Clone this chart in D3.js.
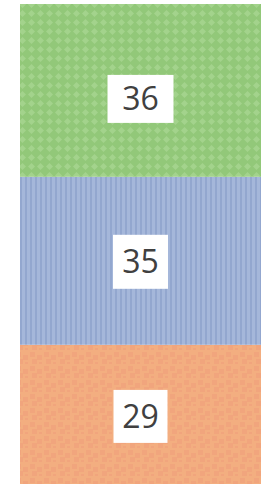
<!DOCTYPE html>
<html>
<head>
<meta charset="utf-8">
<script src="https://cdn.jsdelivr.net/npm/d3@7"></script>
<style>
  html, body { margin: 0; padding: 0; background: #ffffff; }
  svg { display: block; }
</style>
</head>
<body>
<script>
// Data (bottom to top)
const categories = ["A", "B", "C"];
const values = [29, 35, 36];
const labels = ["29", "35", "36"];

// Label box layout (presentation only)
const boxW = [54, 55, 66];
const boxH = [53, 54, 48];
const boxDy = [2, 1, 8.5];

const W = 265, H = 484;
const svg = d3.select("body").append("svg").attr("width", W).attr("height", H);
const defs = svg.append("defs");

// Orange dotted pattern
const pOr = defs.append("pattern").attr("id", "pat0").attr("patternUnits", "userSpaceOnUse")
  .attr("width", 14).attr("height", 14);
pOr.append("rect").attr("width", 14).attr("height", 14).attr("fill", "#f3ae80");
[[2,2],[9,5],[4,9],[11,12]].forEach(([x,y]) =>
  pOr.append("rect").attr("x", x).attr("y", y).attr("width", 5).attr("height", 5).attr("fill", "#f09f7c").attr("opacity", 0.6));

// Blue vertical stripe pattern
const pBl = defs.append("pattern").attr("id", "pat1").attr("patternUnits", "userSpaceOnUse")
  .attr("width", 5).attr("height", 4);
pBl.append("rect").attr("width", 5).attr("height", 4).attr("fill", "#a5b7da");
pBl.append("rect").attr("x", 0).attr("width", 2).attr("height", 4).attr("fill", "#93a7cf");

// Green diamond lattice pattern
const pGr = defs.append("pattern").attr("id", "pat2").attr("patternUnits", "userSpaceOnUse")
  .attr("width", 9).attr("height", 9);
pGr.append("rect").attr("width", 9).attr("height", 9).attr("fill", "#92c879");
pGr.append("path").attr("d", "M4.5,1 L8,4.5 L4.5,8 L1,4.5 Z").attr("fill", "#a3d38c");

const x = d3.scaleBand().domain(["bar"]).range([20, 261]).padding(0);
const y = d3.scaleLinear().domain([0, d3.sum(values)]).range([484, 4]);

let cum = 0;
const segs = values.map((v, i) => { const s = { i, v, y0: cum, y1: cum + v, label: labels[i] }; cum += v; return s; });

svg.selectAll("rect.seg").data(segs).join("rect")
  .attr("class", "seg")
  .attr("x", x("bar"))
  .attr("width", x.bandwidth())
  .attr("y", d => y(d.y1))
  .attr("height", d => y(d.y0) - y(d.y1))
  .attr("fill", d => `url(#pat${d.i})`);

const cx = x("bar") + x.bandwidth() / 2;
const g = svg.selectAll("g.lab").data(segs).join("g").attr("class", "lab")
  .attr("transform", d => `translate(${cx},${(y(d.y0) + y(d.y1)) / 2 + boxDy[d.i]})`);
g.append("rect")
  .attr("x", d => -boxW[d.i] / 2).attr("y", d => -boxH[d.i] / 2)
  .attr("width", d => boxW[d.i]).attr("height", d => boxH[d.i]).attr("fill", "#ffffff");
g.append("text")
  .attr("text-anchor", "middle")
  .attr("dy", "0.36em")
  .attr("font-family", "'Open Sans', 'DejaVu Sans', sans-serif")
  .attr("font-size", 32)
  .attr("fill", "#404040")
  .text(d => d.label);
</script>
</body>
</html>
